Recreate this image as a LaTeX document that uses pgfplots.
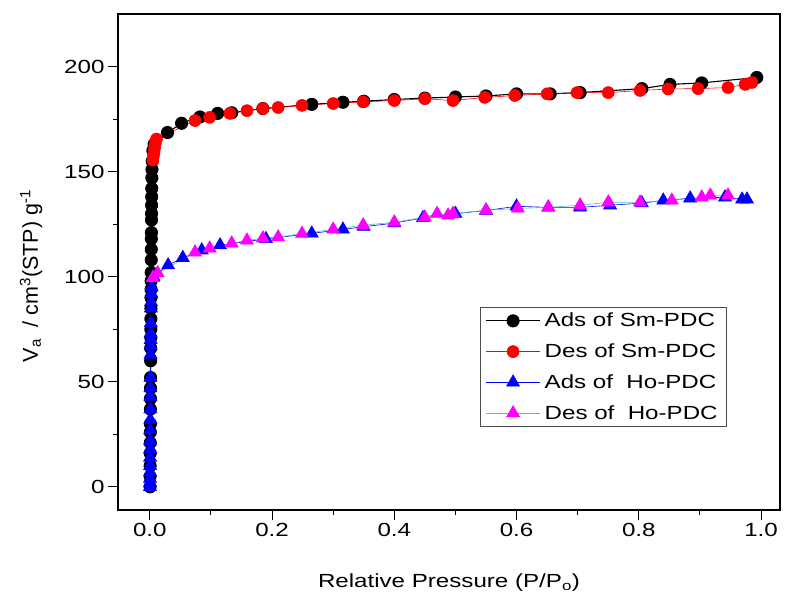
\documentclass[border=0pt]{standalone}
\usepackage{fontspec}
\setmainfont{Liberation Sans}[FakeStretch=1.27]
\newfontfamily\ylfont{Liberation Sans}
\usepackage{pgfplots}
\pgfplotsset{compat=1.18}
\definecolor{tealline}{RGB}{80,190,190}
\definecolor{mag}{RGB}{255,0,255}
\definecolor{myred}{RGB}{255,0,0}
\definecolor{myblue}{RGB}{0,0,255}
\begin{document}
\begin{tikzpicture}
\begin{axis}[
  scale only axis,
  width=662pt, height=496pt,
  xmin=-0.052, xmax=1.031,
  ymin=-11, ymax=225,
  xtick={0,0.2,...,1.0},
  minor xtick={0.1,0.3,...,0.9},
  ytick={0,50,...,200},
  minor ytick={25,75,...,175},
  tick pos=left,
  tick align=outside,
  major tick length=10pt,
  minor tick length=5pt,
  every tick/.style={line width=1pt, black},
  axis line style={line width=1.2pt},
  xticklabel style={/pgf/number format/.cd, fixed, fixed zerofill, precision=1},
  /pgf/number format/assume math mode=true,
  tick label style={font=\fontsize{19}{22}\selectfont},
  xlabel style={font=\fontsize{19}{22}\selectfont, yshift=-30pt},
  ylabel style={font=\ylfont\fontsize{21.5}{26}\selectfont, yshift=15pt, xshift=-14pt},
  xlabel={Relative Pressure (P/P\textsubscript{o})},
  ylabel={V\textsubscript{a}\ \ / cm\textsuperscript{3}(STP) g\textsuperscript{-1}},
  legend style={at={(rel axis cs:0.92,0.167)}, anchor=south east,
    font=\fontsize{19}{22}\selectfont, draw=black!70, line width=0.8pt,
    row sep=11.5pt, inner xsep=5pt, inner ysep=4pt, nodes={inner xsep=4pt}},
  legend cell align=left,
  legend image code/.code={
    \draw[mark repeat=2,mark phase=2] plot coordinates {(0cm,0cm) (0.95cm,0cm) (1.9cm,0cm)};
  },
]
\addplot[black, line width=1.1pt, mark=*, mark size=6pt, mark options={fill=black, draw=black}] coordinates {
(0.0005,0) (0.0005,5) (0.0006,10) (0.0007,16) (0.0008,21) (0.0009,26) (0.001,30) (0.001,37)
(0.0011,42) (0.0012,47) (0.0013,52) (0.0014,60) (0.0015,66) (0.0016,71) (0.0017,75) (0.0018,80)
(0.0019,85) (0.002,90) (0.0021,94) (0.0022,98) (0.0023,102) (0.0024,108) (0.0025,113) (0.0026,118)
(0.0027,121) (0.0028,127) (0.0029,130) (0.003,134) (0.0031,138) (0.0032,142) (0.0034,147)
(0.0036,151) (0.004,155) (0.005,160) (0.007,163)
(0.029,168.6) (0.052,173) (0.082,176) (0.111,177.7) (0.134,178) (0.185,180) (0.265,182)
(0.316,183) (0.35,183.5) (0.40,184.3) (0.45,185) (0.50,185.5) (0.55,186) (0.60,187)
(0.655,187) (0.704,187.6) (0.805,189.5) (0.851,191.5) (0.903,192.2) (0.993,194.8)
};
\addlegendentry{Ads of Sm-PDC}
\addplot[myred, line width=0.6pt, mark=*, mark size=6pt, mark options={fill=myred, draw=myred}] coordinates {
(0.985,192.4) (0.974,191.5) (0.946,190) (0.897,189.5) (0.848,189.3) (0.802,188.6) (0.75,187.6)
(0.699,187.6) (0.65,187) (0.597,186.2) (0.548,185.3) (0.496,183.8) (0.45,184.7) (0.40,183.8)
(0.349,183.2) (0.30,182.4) (0.249,181.5) (0.21,180.5) (0.185,180) (0.159,179) (0.131,177.7)
(0.098,175.8) (0.074,174.3) (0.011,165.5) (0.009,163.5) (0.008,161.5) (0.007,159.5)
(0.006,157.5) (0.005,155.5)
};
\addlegendentry{Des of Sm-PDC}
\addplot[myblue, line width=0.6pt, mark=triangle*, mark size=7.5pt, mark options={fill=myblue, draw=myblue}] coordinates {
(0.0003,0) (0.0003,2) (0.0004,4) (0.0004,7) (0.0005,10) (0.0005,14) (0.0006,18) (0.0006,22)
(0.0007,27) (0.0008,32) (0.0009,37) (0.001,43) (0.001,47) (0.0011,52) (0.0012,63) (0.0013,67)
(0.0014,70) (0.0015,73) (0.0016,78) (0.0018,85) (0.002,88) (0.0025,92) (0.003,95) (0.006,100)
(0.03,105.5) (0.054,109) (0.085,112.6) (0.115,115) (0.19,118) (0.265,120.6) (0.316,122.5)
(0.35,123.8) (0.40,125.5) (0.447,128) (0.50,130) (0.55,131.5) (0.60,133.5) (0.652,133)
(0.704,133) (0.753,134) (0.805,135) (0.84,136.3) (0.884,137.3) (0.941,137.8) (0.969,136.8)
(0.977,136.8)
};
\addlegendentry{Ads of\ \ Ho-PDC}
\addplot[tealline, line width=0.6pt, mark=triangle*, mark size=7.5pt, mark options={fill=mag, draw=mag}] coordinates {
(0.946,138.7) (0.917,138.7) (0.903,137.8) (0.854,136.3) (0.802,135.4) (0.75,135.4) (0.704,134)
(0.652,133) (0.602,132.5) (0.55,131.6) (0.496,130) (0.488,129.2) (0.47,130) (0.45,128.3)
(0.40,125.9) (0.349,124.5) (0.30,122.5) (0.249,120.5) (0.21,118.8) (0.185,118.3) (0.159,117.3)
(0.134,115.9) (0.098,113.5) (0.074,111.6) (0.013,101.7) (0.005,99.5)
};
\addlegendentry{Des of\ \ Ho-PDC}
\end{axis}
\path (current axis.south west) +(-118pt,-91pt);
\path (current axis.north east) +(11pt,14pt);
\end{tikzpicture}
\end{document}
